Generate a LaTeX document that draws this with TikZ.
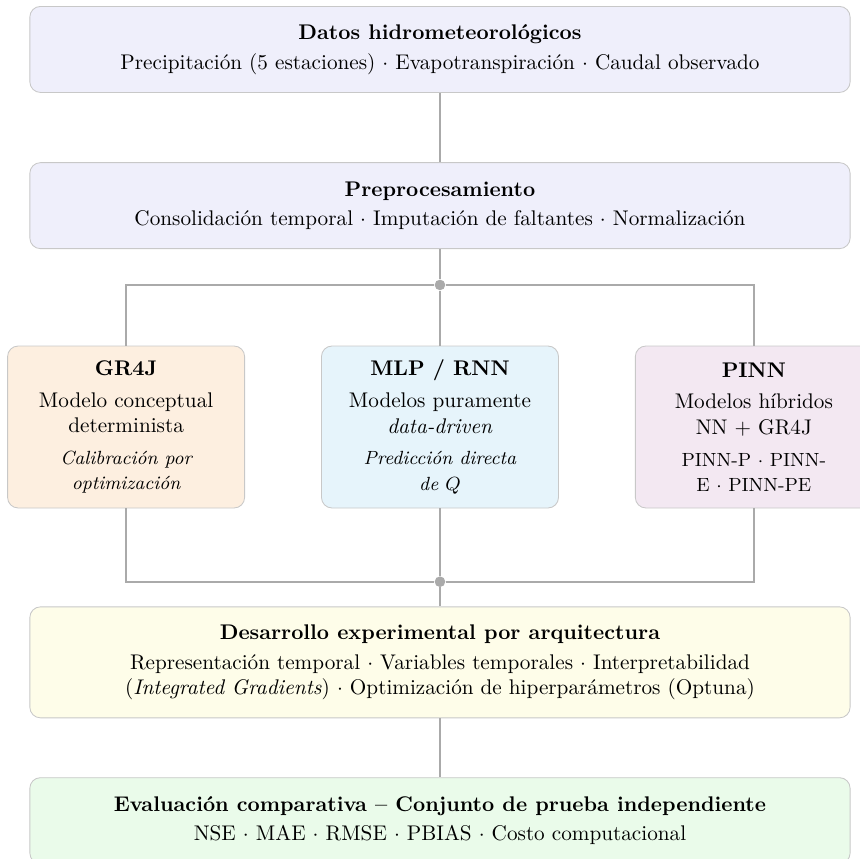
\documentclass[tikz,border=0pt]{standalone}
\usepackage{tikz}
\usetikzlibrary{positioning}
\definecolor{inputblue}{HTML}{EFEFFB}
\definecolor{gr4jorange}{HTML}{FDEFE0}
\definecolor{mlpblue}{HTML}{E6F4FB}
\definecolor{pinnpink}{HTML}{F3E8F2}
\definecolor{devyellow}{HTML}{FEFDE9}
\definecolor{evalgreen}{HTML}{EAFBEA}
\definecolor{edgegray}{HTML}{C8C8C8}
\definecolor{linkgray}{HTML}{AAAAAA}

\begin{document}
\begin{tikzpicture}[
  stage/.style={
    draw=edgegray, rounded corners=5pt, align=center,
    minimum width=13.6cm, minimum height=1.426cm, inner sep=0pt
  },
  model/.style={
    draw=edgegray, rounded corners=5pt, align=center,
    minimum width=3.93cm, minimum height=2.686cm, inner sep=0pt
  },
  link/.style={linkgray, line width=0.95pt},
  junction/.style={circle, fill=linkgray, inner sep=0pt, minimum size=5pt}
]
\useasboundingbox (-7.295,0.0995) rectangle (6.964,-14.14);
\node[stage, fill=inputblue, anchor=north] (datos) at (0,0)
  {\textbf{Datos hidrometeorológicos}\\[2pt]
   Precipitación (5 estaciones) $\cdot$ Evapotranspiración $\cdot$ Caudal observado};
\node[stage, fill=inputblue, below=1.15cm of datos] (prep)
  {\textbf{Preprocesamiento}\\[2pt]
   Consolidación temporal $\cdot$ Imputación de faltantes $\cdot$ Normalización};
\node[model, fill=mlpblue, below=1.6cm of prep] (mlp)
  {\textbf{MLP / RNN}\\[3pt]
   Modelos puramente\\ \textit{data-driven}\\[3pt]
   \small\itshape Predicción directa\\ \small\itshape de $Q$};
\node[model, fill=gr4jorange, left=1.26cm of mlp] (gr4j)
  {\textbf{GR4J}\\[3pt]
   Modelo conceptual\\ determinista\\[3pt]
   \small\itshape Calibración por\\ \small\itshape optimización};
\node[model, fill=pinnpink, right=1.26cm of mlp] (pinn)
  {\textbf{PINN}\\[3pt]
   Modelos híbridos\\ NN $+$ GR4J\\[3pt]
   \small PINN-P $\cdot$ PINN-\\ \small E $\cdot$ PINN-PE};
\node[stage, fill=devyellow, minimum height=1.84cm, below=1.625cm of mlp] (dev)
  {\textbf{Desarrollo experimental por arquitectura}\\[2pt]
   Representación temporal $\cdot$ Variables temporales $\cdot$ Interpretabilidad\\
   (\textit{Integrated Gradients}) $\cdot$ Optimización de hiperparámetros (Optuna)};
\node[stage, fill=evalgreen, below=0.978cm of dev] (eval)
  {\textbf{Evaluación comparativa -- Conjunto de prueba independiente}\\[2pt]
   NSE $\cdot$ MAE $\cdot$ RMSE $\cdot$ PBIAS $\cdot$ Costo computacional};
\node[junction, below=0.5cm of prep] (split) {};
\node[junction, below=1.12cm of mlp] (merge) {};

\draw[link] (datos) -- (prep);
\draw[link] (prep) -- (split);
\draw[link] (split) -| (gr4j);
\draw[link] (split) -- (mlp);
\draw[link] (split) -| (pinn);
\draw[link] (gr4j) |- (merge);
\draw[link] (mlp) -- (merge);
\draw[link] (pinn) |- (merge);
\draw[link] (merge) -- (dev);
\draw[link] (dev) -- (eval);
\end{tikzpicture}
\end{document}
